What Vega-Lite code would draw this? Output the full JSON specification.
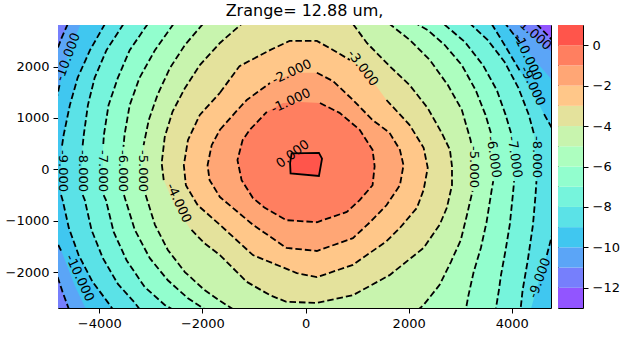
{
"$schema": "https://vega.github.io/schema/vega-lite/v6.json",
"padding": {"left": 4, "top": 2, "right": 5, "bottom": 5},
"config": {
 "font": "DejaVu Sans",
 "view": {"stroke": "black", "strokeWidth": 1},
 "axis": {"domain": false, "grid": false, "tickColor": "black", "tickSize": 5, "tickWidth": 1, "labelFont": "DejaVu Sans", "labelFontSize": 13, "labelColor": "black", "labelPadding": 4, "title": null}
},
"datasets": {
 "poly": [
  {"L":-13,"i":0,"x":-5200,"y":3100},{"L":-13,"i":1,"x":5200,"y":3100},{"L":-13,"i":2,"x":5200,"y":-3000},{"L":-13,"i":3,"x":-5200,"y":-3000},
  {"L":-12,"i":0,"x":4480,"y":2830},{"L":-12,"i":1,"x":4780,"y":2520},{"L":-12,"i":2,"x":5200,"y":2520},{"L":-12,"i":3,"x":5200,"y":-3000},{"L":-12,"i":4,"x":-5200,"y":-3000},{"L":-12,"i":5,"x":-5200,"y":3100},{"L":-12,"i":6,"x":4480,"y":3100},
  {"L":-11,"i":0,"x":-4610,"y":2830},{"L":-11,"i":1,"x":-4730,"y":2560},{"L":-11,"i":2,"x":-4820,"y":2320},{"L":-11,"i":3,"x":-5200,"y":2320},{"L":-11,"i":4,"x":-5200,"y":-2060},{"L":-11,"i":5,"x":-4820,"y":-2060},{"L":-11,"i":6,"x":-4710,"y":-2390},{"L":-11,"i":7,"x":-4590,"y":-2720},{"L":-11,"i":8,"x":-4590,"y":-3000},{"L":-11,"i":9,"x":5200,"y":-3000},{"L":-11,"i":10,"x":5200,"y":2280},{"L":-11,"i":11,"x":4780,"y":2280},{"L":-11,"i":12,"x":null,"y":null},{"L":-11,"i":13,"x":4460,"y":2560},{"L":-11,"i":14,"x":null,"y":null},{"L":-11,"i":15,"x":4150,"y":2830},{"L":-11,"i":16,"x":4150,"y":3100},{"L":-11,"i":17,"x":-4610,"y":3100},
  {"L":-10,"i":0,"x":-4360,"y":2830},{"L":-10,"i":1,"x":null,"y":null},{"L":-10,"i":2,"x":-4530,"y":2420},{"L":-10,"i":3,"x":null,"y":null},{"L":-10,"i":4,"x":-4670,"y":2030},{"L":-10,"i":5,"x":null,"y":null},{"L":-10,"i":6,"x":-4770,"y":1640},{"L":-10,"i":7,"x":-4820,"y":1410},{"L":-10,"i":8,"x":-5200,"y":1410},{"L":-10,"i":9,"x":-5200,"y":-1420},{"L":-10,"i":10,"x":-4820,"y":-1420},{"L":-10,"i":11,"x":-4727,"y":-1610},{"L":-10,"i":12,"x":null,"y":null},{"L":-10,"i":13,"x":-4650,"y":-1810},{"L":-10,"i":14,"x":null,"y":null},{"L":-10,"i":15,"x":-4480,"y":-2250},{"L":-10,"i":16,"x":null,"y":null},{"L":-10,"i":17,"x":-4260,"y":-2720},{"L":-10,"i":18,"x":-4260,"y":-3000},{"L":-10,"i":19,"x":5200,"y":-3000},{"L":-10,"i":20,"x":5200,"y":1740},{"L":-10,"i":21,"x":4780,"y":1740},{"L":-10,"i":22,"x":null,"y":null},{"L":-10,"i":23,"x":4440,"y":2130},{"L":-10,"i":24,"x":null,"y":null},{"L":-10,"i":25,"x":4150,"y":2480},{"L":-10,"i":26,"x":3880,"y":2830},{"L":-10,"i":27,"x":3880,"y":3100},{"L":-10,"i":28,"x":-4360,"y":3100},
  {"L":-9,"i":0,"x":-3890,"y":2830},{"L":-9,"i":1,"x":-4180,"y":2320},{"L":-9,"i":2,"x":-4420,"y":1780},{"L":-9,"i":3,"x":-4570,"y":1250},{"L":-9,"i":4,"x":-4690,"y":670},{"L":-9,"i":5,"x":-4725,"y":440},{"L":-9,"i":6,"x":null,"y":null},{"L":-9,"i":7,"x":-4750,"y":10},{"L":-9,"i":8,"x":null,"y":null},{"L":-9,"i":9,"x":-4740,"y":-500},{"L":-9,"i":10,"x":-4710,"y":-600},{"L":-9,"i":11,"x":-4590,"y":-1140},{"L":-9,"i":12,"x":-4400,"y":-1670},{"L":-9,"i":13,"x":-4130,"y":-2190},{"L":-9,"i":14,"x":-3840,"y":-2580},{"L":-9,"i":15,"x":-3740,"y":-2720},{"L":-9,"i":16,"x":-3740,"y":-3000},{"L":-9,"i":17,"x":4370,"y":-3000},{"L":-9,"i":18,"x":4370,"y":-2720},{"L":-9,"i":19,"x":null,"y":null},{"L":-9,"i":20,"x":4430,"y":-2510},{"L":-9,"i":21,"x":null,"y":null},{"L":-9,"i":22,"x":4540,"y":-2120},{"L":-9,"i":23,"x":null,"y":null},{"L":-9,"i":24,"x":4680,"y":-1670},{"L":-9,"i":25,"x":4780,"y":-1280},{"L":-9,"i":26,"x":5200,"y":-1280},{"L":-9,"i":27,"x":5200,"y":800},{"L":-9,"i":28,"x":4780,"y":800},{"L":-9,"i":29,"x":4600,"y":1120},{"L":-9,"i":30,"x":null,"y":null},{"L":-9,"i":31,"x":4410,"y":1490},{"L":-9,"i":32,"x":null,"y":null},{"L":-9,"i":33,"x":4150,"y":1930},{"L":-9,"i":34,"x":3860,"y":2420},{"L":-9,"i":35,"x":3610,"y":2830},{"L":-9,"i":36,"x":3610,"y":3100},{"L":-9,"i":37,"x":-3890,"y":3100},
  {"L":-8,"i":0,"x":-3530,"y":2830},{"L":-8,"i":1,"x":-3860,"y":2320},{"L":-8,"i":2,"x":-4090,"y":1780},{"L":-8,"i":3,"x":-4220,"y":1250},{"L":-8,"i":4,"x":-4300,"y":670},{"L":-8,"i":5,"x":-4325,"y":440},{"L":-8,"i":6,"x":null,"y":null},{"L":-8,"i":7,"x":-4340,"y":10},{"L":-8,"i":8,"x":null,"y":null},{"L":-8,"i":9,"x":-4320,"y":-500},{"L":-8,"i":10,"x":-4280,"y":-600},{"L":-8,"i":11,"x":-4150,"y":-1180},{"L":-8,"i":12,"x":-3930,"y":-1730},{"L":-8,"i":13,"x":-3640,"y":-2230},{"L":-8,"i":14,"x":-3310,"y":-2600},{"L":-8,"i":15,"x":-3220,"y":-2720},{"L":-8,"i":16,"x":-3220,"y":-3000},{"L":-8,"i":17,"x":4170,"y":-3000},{"L":-8,"i":18,"x":4170,"y":-2720},{"L":-8,"i":19,"x":4210,"y":-2350},{"L":-8,"i":20,"x":4310,"y":-1770},{"L":-8,"i":21,"x":4410,"y":-1080},{"L":-8,"i":22,"x":4460,"y":-500},{"L":-8,"i":23,"x":4478,"y":-229},{"L":-8,"i":24,"x":null,"y":null},{"L":-8,"i":25,"x":4480,"y":80},{"L":-8,"i":26,"x":null,"y":null},{"L":-8,"i":27,"x":4440,"y":570},{"L":-8,"i":28,"x":null,"y":null},{"L":-8,"i":29,"x":4425,"y":705},{"L":-8,"i":30,"x":4330,"y":1060},{"L":-8,"i":31,"x":4130,"y":1580},{"L":-8,"i":32,"x":3860,"y":2090},{"L":-8,"i":33,"x":3530,"y":2520},{"L":-8,"i":34,"x":3200,"y":2830},{"L":-8,"i":35,"x":3200,"y":3100},{"L":-8,"i":36,"x":-3530,"y":3100},
  {"L":-7,"i":0,"x":-3060,"y":2830},{"L":-7,"i":1,"x":-3410,"y":2320},{"L":-7,"i":2,"x":-3640,"y":1780},{"L":-7,"i":3,"x":-3820,"y":1250},{"L":-7,"i":4,"x":-3910,"y":670},{"L":-7,"i":5,"x":-3925,"y":440},{"L":-7,"i":6,"x":null,"y":null},{"L":-7,"i":7,"x":-3930,"y":10},{"L":-7,"i":8,"x":null,"y":null},{"L":-7,"i":9,"x":-3915,"y":-500},{"L":-7,"i":10,"x":-3870,"y":-600},{"L":-7,"i":11,"x":-3720,"y":-1220},{"L":-7,"i":12,"x":-3470,"y":-1770},{"L":-7,"i":13,"x":-3120,"y":-2290},{"L":-7,"i":14,"x":-2730,"y":-2640},{"L":-7,"i":15,"x":-2590,"y":-2720},{"L":-7,"i":16,"x":-2590,"y":-3000},{"L":-7,"i":17,"x":3690,"y":-3000},{"L":-7,"i":18,"x":3690,"y":-2720},{"L":-7,"i":19,"x":3750,"y":-2350},{"L":-7,"i":20,"x":3790,"y":-2060},{"L":-7,"i":21,"x":3880,"y":-1570},{"L":-7,"i":22,"x":3960,"y":-1080},{"L":-7,"i":23,"x":4020,"y":-500},{"L":-7,"i":24,"x":4045,"y":-229},{"L":-7,"i":25,"x":null,"y":null},{"L":-7,"i":26,"x":4040,"y":80},{"L":-7,"i":27,"x":null,"y":null},{"L":-7,"i":28,"x":4000,"y":570},{"L":-7,"i":29,"x":null,"y":null},{"L":-7,"i":30,"x":3985,"y":705},{"L":-7,"i":31,"x":3880,"y":1060},{"L":-7,"i":32,"x":3710,"y":1540},{"L":-7,"i":33,"x":3440,"y":2030},{"L":-7,"i":34,"x":3090,"y":2480},{"L":-7,"i":35,"x":2680,"y":2830},{"L":-7,"i":36,"x":2680,"y":3100},{"L":-7,"i":37,"x":-3060,"y":3100},
  {"L":-6,"i":0,"x":-2560,"y":2830},{"L":-6,"i":1,"x":-2920,"y":2320},{"L":-6,"i":2,"x":-3220,"y":1780},{"L":-6,"i":3,"x":-3410,"y":1250},{"L":-6,"i":4,"x":-3510,"y":670},{"L":-6,"i":5,"x":-3530,"y":440},{"L":-6,"i":6,"x":null,"y":null},{"L":-6,"i":7,"x":-3540,"y":10},{"L":-6,"i":8,"x":null,"y":null},{"L":-6,"i":9,"x":-3520,"y":-500},{"L":-6,"i":10,"x":-3490,"y":-600},{"L":-6,"i":11,"x":-3310,"y":-1180},{"L":-6,"i":12,"x":-3020,"y":-1730},{"L":-6,"i":13,"x":-2670,"y":-2160},{"L":-6,"i":14,"x":-2280,"y":-2510},{"L":-6,"i":15,"x":-1960,"y":-2720},{"L":-6,"i":16,"x":-1960,"y":-3000},{"L":-6,"i":17,"x":3110,"y":-3000},{"L":-6,"i":18,"x":3110,"y":-2720},{"L":-6,"i":19,"x":3160,"y":-2450},{"L":-6,"i":20,"x":3260,"y":-2000},{"L":-6,"i":21,"x":3400,"y":-1530},{"L":-6,"i":22,"x":3510,"y":-1030},{"L":-6,"i":23,"x":3610,"y":-400},{"L":-6,"i":24,"x":3640,"y":-229},{"L":-6,"i":25,"x":null,"y":null},{"L":-6,"i":26,"x":3650,"y":80},{"L":-6,"i":27,"x":null,"y":null},{"L":-6,"i":28,"x":3610,"y":570},{"L":-6,"i":29,"x":null,"y":null},{"L":-6,"i":30,"x":3595,"y":705},{"L":-6,"i":31,"x":3490,"y":1060},{"L":-6,"i":32,"x":3300,"y":1540},{"L":-6,"i":33,"x":3030,"y":2030},{"L":-6,"i":34,"x":2700,"y":2420},{"L":-6,"i":35,"x":2370,"y":2710},{"L":-6,"i":36,"x":2160,"y":2830},{"L":-6,"i":37,"x":2160,"y":3100},{"L":-6,"i":38,"x":-2560,"y":3100},
  {"L":-5,"i":0,"x":-1990,"y":2830},{"L":-5,"i":1,"x":-2340,"y":2420},{"L":-5,"i":2,"x":-2630,"y":1970},{"L":-5,"i":3,"x":-2870,"y":1450},{"L":-5,"i":4,"x":-3040,"y":960},{"L":-5,"i":5,"x":-3140,"y":470},{"L":-5,"i":6,"x":null,"y":null},{"L":-5,"i":7,"x":-3160,"y":10},{"L":-5,"i":8,"x":null,"y":null},{"L":-5,"i":9,"x":-3100,"y":-500},{"L":-5,"i":10,"x":-2920,"y":-1080},{"L":-5,"i":11,"x":-2670,"y":-1570},{"L":-5,"i":12,"x":-2340,"y":-2000},{"L":-5,"i":13,"x":-1960,"y":-2350},{"L":-5,"i":14,"x":-1630,"y":-2580},{"L":-5,"i":15,"x":-1410,"y":-2720},{"L":-5,"i":16,"x":-1410,"y":-3000},{"L":-5,"i":17,"x":2200,"y":-3000},{"L":-5,"i":18,"x":2200,"y":-2720},{"L":-5,"i":19,"x":2290,"y":-2640},{"L":-5,"i":20,"x":2600,"y":-2250},{"L":-5,"i":21,"x":2820,"y":-1800},{"L":-5,"i":22,"x":3010,"y":-1380},{"L":-5,"i":23,"x":3130,"y":-890},{"L":-5,"i":24,"x":3220,"y":-500},{"L":-5,"i":25,"x":3240,"y":-424},{"L":-5,"i":26,"x":null,"y":null},{"L":-5,"i":27,"x":3260,"y":-110},{"L":-5,"i":28,"x":null,"y":null},{"L":-5,"i":29,"x":3260,"y":180},{"L":-5,"i":30,"x":null,"y":null},{"L":-5,"i":31,"x":3210,"y":512},{"L":-5,"i":32,"x":3200,"y":570},{"L":-5,"i":33,"x":3030,"y":1160},{"L":-5,"i":34,"x":2760,"y":1640},{"L":-5,"i":35,"x":2410,"y":2130},{"L":-5,"i":36,"x":2020,"y":2520},{"L":-5,"i":37,"x":1630,"y":2830},{"L":-5,"i":38,"x":1630,"y":3100},{"L":-5,"i":39,"x":-1990,"y":3100},
  {"L":-4,"i":0,"x":920,"y":2830},{"L":-4,"i":1,"x":1190,"y":2460},{"L":-4,"i":2,"x":1630,"y":2010},{"L":-4,"i":3,"x":2020,"y":1640},{"L":-4,"i":4,"x":2370,"y":1190},{"L":-4,"i":5,"x":2640,"y":710},{"L":-4,"i":6,"x":2800,"y":380},{"L":-4,"i":7,"x":2840,"y":60},{"L":-4,"i":8,"x":2840,"y":-310},{"L":-4,"i":9,"x":2740,"y":-750},{"L":-4,"i":10,"x":2600,"y":-1080},{"L":-4,"i":11,"x":2290,"y":-1530},{"L":-4,"i":12,"x":1630,"y":-2060},{"L":-4,"i":13,"x":920,"y":-2450},{"L":-4,"i":14,"x":220,"y":-2600},{"L":-4,"i":15,"x":-370,"y":-2580},{"L":-4,"i":16,"x":-690,"y":-2450},{"L":-4,"i":17,"x":-1140,"y":-2190},{"L":-4,"i":18,"x":-1660,"y":-1670},{"L":-4,"i":19,"x":-1960,"y":-1440},{"L":-4,"i":20,"x":-2250,"y":-1140},{"L":-4,"i":21,"x":null,"y":null},{"L":-4,"i":22,"x":-2540,"y":-700},{"L":-4,"i":23,"x":null,"y":null},{"L":-4,"i":24,"x":-2750,"y":-210},{"L":-4,"i":25,"x":-2790,"y":120},{"L":-4,"i":26,"x":-2730,"y":630},{"L":-4,"i":27,"x":-2580,"y":1120},{"L":-4,"i":28,"x":-2340,"y":1580},{"L":-4,"i":29,"x":-2050,"y":2030},{"L":-4,"i":30,"x":-1660,"y":2460},{"L":-4,"i":31,"x":-1240,"y":2830},{"L":-4,"i":32,"x":-1240,"y":3100},{"L":-4,"i":33,"x":920,"y":3100},
  {"L":-3,"i":0,"x":-1660,"y":1490},{"L":-3,"i":1,"x":-1280,"y":2010},{"L":-3,"i":2,"x":-690,"y":2320},{"L":-3,"i":3,"x":-310,"y":2500},{"L":-3,"i":4,"x":220,"y":2500},{"L":-3,"i":5,"x":470,"y":2360},{"L":-3,"i":6,"x":860,"y":2130},{"L":-3,"i":7,"x":null,"y":null},{"L":-3,"i":8,"x":1148,"y":1933},{"L":-3,"i":9,"x":null,"y":null},{"L":-3,"i":10,"x":1570,"y":1350},{"L":-3,"i":11,"x":2020,"y":860},{"L":-3,"i":12,"x":2290,"y":420},{"L":-3,"i":13,"x":2370,"y":30},{"L":-3,"i":14,"x":2290,"y":-400},{"L":-3,"i":15,"x":2160,"y":-750},{"L":-3,"i":16,"x":1830,"y":-1140},{"L":-3,"i":17,"x":1570,"y":-1400},{"L":-3,"i":18,"x":920,"y":-1860},{"L":-3,"i":19,"x":220,"y":-2100},{"L":-3,"i":20,"x":-170,"y":-2020},{"L":-3,"i":21,"x":-1020,"y":-1670},{"L":-3,"i":22,"x":-1660,"y":-1080},{"L":-3,"i":23,"x":-2090,"y":-700},{"L":-3,"i":24,"x":-2320,"y":-310},{"L":-3,"i":25,"x":-2360,"y":80},{"L":-3,"i":26,"x":-2280,"y":570},{"L":-3,"i":27,"x":-2050,"y":1060},{"L":-3,"i":28,"x":-1660,"y":1490},
  {"L":-2,"i":0,"x":-1660,"y":770},{"L":-2,"i":1,"x":-1370,"y":1100},{"L":-2,"i":2,"x":-1140,"y":1350},{"L":-2,"i":3,"x":-690,"y":1680},{"L":-2,"i":4,"x":null,"y":null},{"L":-2,"i":5,"x":-210,"y":1880},{"L":-2,"i":6,"x":null,"y":null},{"L":-2,"i":7,"x":220,"y":1880},{"L":-2,"i":8,"x":530,"y":1720},{"L":-2,"i":9,"x":920,"y":1350},{"L":-2,"i":10,"x":1300,"y":960},{"L":-2,"i":11,"x":1630,"y":710},{"L":-2,"i":12,"x":1830,"y":380},{"L":-2,"i":13,"x":1900,"y":80},{"L":-2,"i":14,"x":1830,"y":-310},{"L":-2,"i":15,"x":1570,"y":-700},{"L":-2,"i":16,"x":1250,"y":-1030},{"L":-2,"i":17,"x":920,"y":-1340},{"L":-2,"i":18,"x":220,"y":-1590},{"L":-2,"i":19,"x":-370,"y":-1530},{"L":-2,"i":20,"x":-1020,"y":-1080},{"L":-2,"i":21,"x":-1660,"y":-540},{"L":-2,"i":22,"x":-1860,"y":-210},{"L":-2,"i":23,"x":-1900,"y":80},{"L":-2,"i":24,"x":-1820,"y":470},{"L":-2,"i":25,"x":-1660,"y":770},
  {"L":-1,"i":0,"x":-440,"y":1290},{"L":-1,"i":1,"x":null,"y":null},{"L":-1,"i":2,"x":-110,"y":1310},{"L":-1,"i":3,"x":null,"y":null},{"L":-1,"i":4,"x":280,"y":1290},{"L":-1,"i":5,"x":660,"y":1100},{"L":-1,"i":6,"x":1050,"y":770},{"L":-1,"i":7,"x":1300,"y":380},{"L":-1,"i":8,"x":1340,"y":60},{"L":-1,"i":9,"x":1300,"y":-310},{"L":-1,"i":10,"x":1050,"y":-600},{"L":-1,"i":11,"x":800,"y":-830},{"L":-1,"i":12,"x":220,"y":-1030},{"L":-1,"i":13,"x":-370,"y":-990},{"L":-1,"i":14,"x":-790,"y":-750},{"L":-1,"i":15,"x":-1020,"y":-560},{"L":-1,"i":16,"x":-1240,"y":-210},{"L":-1,"i":17,"x":-1320,"y":180},{"L":-1,"i":18,"x":-1220,"y":570},{"L":-1,"i":19,"x":-1080,"y":770},{"L":-1,"i":20,"x":-750,"y":1120},
  {"L":0,"i":0,"x":-270,"y":310},{"L":0,"i":1,"x":260,"y":320},{"L":0,"i":2,"x":320,"y":210},{"L":0,"i":3,"x":260,"y":-130},{"L":0,"i":4,"x":-290,"y":-80},{"L":0,"i":5,"x":-300,"y":120}
 ],
 "bands": [
  {"lo":-13,"hi":-12},{"lo":-12,"hi":-11},{"lo":-11,"hi":-10},{"lo":-10,"hi":-9},{"lo":-9,"hi":-8},{"lo":-8,"hi":-7},{"lo":-7,"hi":-6},{"lo":-6,"hi":-5},{"lo":-5,"hi":-4},{"lo":-4,"hi":-3},{"lo":-3,"hi":-2},{"lo":-2,"hi":-1},{"lo":-1,"hi":0},{"lo":0,"hi":1}
 ]
},
"spacing": 5,
"hconcat": [
 {
  "width": 493, "height": 283,
  "title": {"text": "Zrange= 12.88 um,", "fontSize": 16, "font": "DejaVu Sans", "fontWeight": "normal", "color": "black", "offset": 6},
  "layer": [
   {"data": {"name": "poly"},
    "transform": [{"filter": "isValid(datum.x)"}],
    "mark": {"type": "line", "interpolate": "linear-closed", "clip": true, "strokeWidth": 0, "strokeOpacity": 0},
    "encoding": {
     "x": {"field": "x", "type": "quantitative", "scale": {"domain": [-4800, 4760], "nice": false, "zero": false}, "axis": {"values": [-4000, -2000, 0, 2000, 4000], "format": "d"}},
     "y": {"field": "y", "type": "quantitative", "scale": {"domain": [-2700, 2810], "nice": false, "zero": false}, "axis": {"values": [-2000, -1000, 0, 1000, 2000], "format": "d"}},
     "order": {"field": "i", "type": "quantitative"},
     "detail": {"field": "L", "type": "ordinal"},
     "fill": {"field": "L", "type": "ordinal", "legend": null, "scale": {"domain": [-13,-12,-11,-10,-9,-8,-7,-6,-5,-4,-3,-2,-1,0], "range": ["#9255FF","#767FFC","#5BA5F7","#40C7F0","#5BE2E7","#76F4DC","#92FECE","#ADFEBF","#C8F4AE","#E4E29C","#FFC789","#FFA675","#FF7F60","#FF554B"]}}
    }},
   {"data": {"name": "poly"},
    "transform": [{"filter": "datum.L >= -12 && datum.L <= -1"}],
    "mark": {"type": "line", "interpolate": "linear", "clip": true, "color": "black", "strokeWidth": 1.8, "strokeDash": [6.5, 3]},
    "encoding": {
     "x": {"field": "x", "type": "quantitative"},
     "y": {"field": "y", "type": "quantitative"},
     "order": {"field": "i", "type": "quantitative"},
     "detail": {"field": "L", "type": "ordinal"}
    }},
   {"data": {"name": "poly"},
    "transform": [{"filter": "datum.L == 0"}],
    "mark": {"type": "line", "interpolate": "linear-closed", "clip": true, "color": "black", "strokeWidth": 1.8},
    "encoding": {
     "x": {"field": "x", "type": "quantitative"},
     "y": {"field": "y", "type": "quantitative"},
     "order": {"field": "i", "type": "quantitative"}
    }},
   {"data": {"values": [{"x":-4708,"y":-33,"t":"-9.000"},{"x":-4320,"y":-33,"t":"-8.000"},{"x":-3932,"y":-33,"t":"-7.000"},{"x":-3544,"y":-33,"t":"-6.000"},{"x":-3157,"y":-33,"t":"-5.000"},{"x":4483,"y":239,"t":"-8.000"},{"x":3261,"y":45,"t":"-5.000"}]},
    "mark": {"type": "text", "angle": 90, "fontSize": 13, "font": "DejaVu Sans", "color": "black", "clip": true},
    "encoding": {"x": {"field": "x", "type": "quantitative"}, "y": {"field": "y", "type": "quantitative"}, "text": {"field": "t"}}},
   {"data": {"values": [{"x":4056,"y":239,"t":"-7.000"},{"x":3649,"y":239,"t":"-6.000"}]},
    "mark": {"type": "text", "angle": 82, "fontSize": 13, "font": "DejaVu Sans", "color": "black", "clip": true},
    "encoding": {"x": {"field": "x", "type": "quantitative"}, "y": {"field": "y", "type": "quantitative"}, "text": {"field": "t"}}},
   {"data": {"values": [{"x":-2459,"y":-656,"t":"-4.000"},{"x":-4378,"y":-2116,"t":"-10.000"},{"x":4308,"y":2186,"t":"-10.000"},{"x":4405,"y":1622,"t":"-9.000"}]},
    "mark": {"type": "text", "angle": 65, "fontSize": 13, "font": "DejaVu Sans", "color": "black", "clip": true},
    "encoding": {"x": {"field": "x", "type": "quantitative"}, "y": {"field": "y", "type": "quantitative"}, "text": {"field": "t"}}},
   {"data": {"values": [{"x":1109,"y":1972,"t":"-3.000"}]},
    "mark": {"type": "text", "angle": 53, "fontSize": 13, "font": "DejaVu Sans", "color": "black", "clip": true},
    "encoding": {"x": {"field": "x", "type": "quantitative"}, "y": {"field": "y", "type": "quantitative"}, "text": {"field": "t"}}},
   {"data": {"values": [{"x":4367,"y":2693,"t":"-11.000"}]},
    "mark": {"type": "text", "angle": 42, "fontSize": 13, "font": "DejaVu Sans", "color": "black", "clip": true},
    "encoding": {"x": {"field": "x", "type": "quantitative"}, "y": {"field": "y", "type": "quantitative"}, "text": {"field": "t"}}},
   {"data": {"values": [{"x":-268,"y":1894,"t":"-2.000"},{"x":-287,"y":1330,"t":"-1.000"}]},
    "mark": {"type": "text", "angle": -25, "fontSize": 13, "font": "DejaVu Sans", "color": "black", "clip": true},
    "encoding": {"x": {"field": "x", "type": "quantitative"}, "y": {"field": "y", "type": "quantitative"}, "text": {"field": "t"}}},
   {"data": {"values": [{"x":-248,"y":298,"t":"0.000"}]},
    "mark": {"type": "text", "angle": -37, "fontSize": 13, "font": "DejaVu Sans", "color": "black", "clip": true},
    "encoding": {"x": {"field": "x", "type": "quantitative"}, "y": {"field": "y", "type": "quantitative"}, "text": {"field": "t"}}},
   {"data": {"values": [{"x":-4611,"y":2186,"t":"-10.000"},{"x":4541,"y":-2116,"t":"-9.000"}]},
    "mark": {"type": "text", "angle": -70, "fontSize": 13, "font": "DejaVu Sans", "color": "black", "clip": true},
    "encoding": {"x": {"field": "x", "type": "quantitative"}, "y": {"field": "y", "type": "quantitative"}, "text": {"field": "t"}}}
  ]
 },
 {
  "width": 25, "height": 283,
  "data": {"name": "bands"},
  "mark": {"type": "rect"},
  "encoding": {
   "y": {"field": "lo", "type": "quantitative", "scale": {"domain": [-13, 1], "nice": false, "zero": false}, "axis": {"orient": "right", "values": [0, -2, -4, -6, -8, -10, -12], "format": "d"}},
   "y2": {"field": "hi"},
   "fill": {"field": "lo", "type": "ordinal", "legend": null, "scale": {"domain": [-13,-12,-11,-10,-9,-8,-7,-6,-5,-4,-3,-2,-1,0], "range": ["#9255FF","#767FFC","#5BA5F7","#40C7F0","#5BE2E7","#76F4DC","#92FECE","#ADFEBF","#C8F4AE","#E4E29C","#FFC789","#FFA675","#FF7F60","#FF554B"]}}
  }
 }
]
}
